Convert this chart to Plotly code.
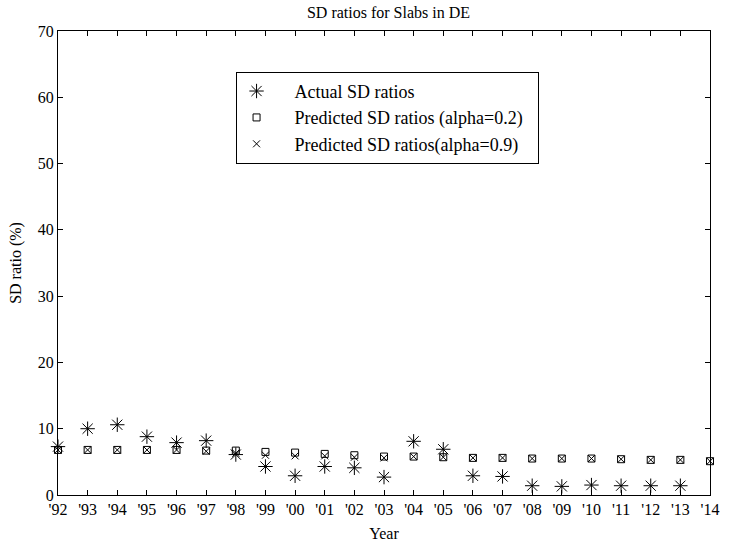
import plotly.graph_objects as go

years = list(range(1992, 2015))
year_labels = ["'92", "'93", "'94", "'95", "'96", "'97", "'98", "'99", "'00", "'01", "'02",
               "'03", "'04", "'05", "'06", "'07", "'08", "'09", "'10", "'11", "'12", "'13", "'14"]
actual = [7.3, 10.0, 10.6, 8.8, 7.9, 8.2, 6.1, 4.3, 2.9, 4.3, 4.1, 2.7, 8.1, 6.9, 2.9, 2.8,
          1.4, 1.3, 1.5, 1.4, 1.4, 1.4, None]
pred_02 = [6.8, 6.8, 6.8, 6.8, 6.8, 6.7, 6.7, 6.5, 6.4, 6.2, 6.0, 5.8, 5.8, 5.7, 5.6, 5.6,
           5.5, 5.5, 5.5, 5.4, 5.3, 5.3, 5.1]
pred_09 = [6.8, 6.8, 6.8, 6.8, 6.8, 6.6, 6.3, 6.0, 5.9, 5.9, 5.7, 5.6, 5.8, 5.7, 5.6, 5.6,
           5.5, 5.5, 5.5, 5.4, 5.3, 5.3, 5.1]
series_names = ["Actual SD ratios", "Predicted SD ratios (alpha=0.2)", "Predicted SD ratios(alpha=0.9)"]

FONT = "Liberation Serif, Times New Roman, serif"
PAD_L = "\u00a0" * 4
PAD_R = "\u00a0" * 2

fig = go.Figure()
fig.add_trace(go.Scatter(x=years, y=actual, mode="markers", name=PAD_L + series_names[0] + PAD_R,
                         legendgroup="a", cliponaxis=False,
                         marker=dict(symbol="asterisk-open", size=12, color="black",
                                     line=dict(color="black", width=1))))
fig.add_trace(go.Scatter(x=years, y=pred_02, mode="markers", name=PAD_L + series_names[1] + PAD_R,
                         legendgroup="b", cliponaxis=False,
                         marker=dict(symbol="square-open", size=7, color="black",
                                     line=dict(color="black", width=1))))
fig.add_trace(go.Scatter(x=years, y=pred_09, mode="markers", name=PAD_L + series_names[2] + PAD_R,
                         legendgroup="c", cliponaxis=False,
                         marker=dict(symbol="x-thin-open", size=7, color="black",
                                     line=dict(color="black", width=1))))

fig.update_layout(
    width=729, height=549,
    margin=dict(l=58, r=10, t=31, b=52),
    paper_bgcolor="white", plot_bgcolor="white",
    font=dict(family=FONT, size=15, color="black"),
    title=dict(text="SD ratios for Slabs in DE", x=(58 + 719) / 2 / 729, xanchor="center",
               y=1 - 12 / 549, yanchor="middle", font=dict(size=16)),
    legend=dict(x=(238 - 58) / 661, y=1 - (72 - 31) / 466, xanchor="left", yanchor="top",
                bordercolor="black", borderwidth=1, bgcolor="white",
                font=dict(size=18), tracegroupgap=6, traceorder="normal"),
    xaxis=dict(range=[1992, 2014], tickvals=years, ticktext=year_labels,
               showline=True, linecolor="black", linewidth=1, mirror="ticks",
               ticks="inside", ticklen=5, tickcolor="black", showgrid=False, zeroline=False,
               tickfont=dict(size=16),
               title=dict(text="Year", font=dict(size=16), standoff=10)),
    yaxis=dict(range=[0, 70], dtick=10,
               showline=True, linecolor="black", linewidth=1, mirror="ticks",
               ticks="inside", ticklen=5, tickcolor="black", showgrid=False, zeroline=False,
               tickfont=dict(size=16),
               title=dict(text="SD ratio (%)", font=dict(size=16), standoff=12)),
)

fig.write_html("out.html")
